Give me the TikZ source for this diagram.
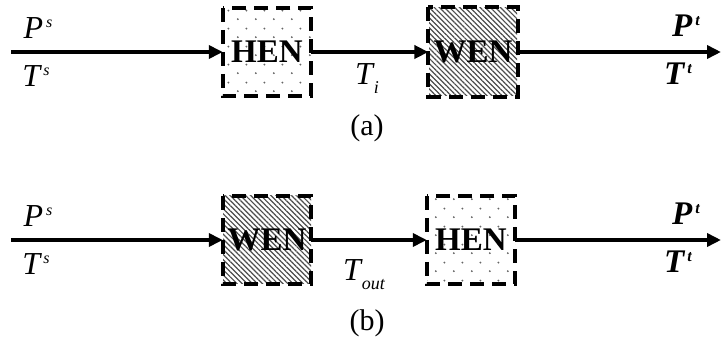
\documentclass[tikz,border=0pt]{standalone}
\usepackage{fontspec}
\setmainfont{Liberation Serif}
\usetikzlibrary{arrows.meta,patterns,patterns.meta}
\pgfdeclarepatternformonly{hexdots}{\pgfpointorigin}{\pgfpoint{18pt}{18pt}}{\pgfpoint{18pt}{18pt}}{%
  \pgfpathcircle{\pgfpoint{4pt}{4pt}}{1.1pt}%
  \pgfpathcircle{\pgfpoint{13pt}{13pt}}{1.1pt}%
  \pgfusepath{fill}}
\newcommand{\supl}[2]{#1\hspace{3pt}\raisebox{11pt}{\fontsize{16}{16}\selectfont #2}}
\newcommand{\subl}[2]{#1\hspace{1pt}\raisebox{-9pt}{\fontsize{18}{18}\selectfont #2}}
\begin{document}
\begin{tikzpicture}[x=1pt,y=-1pt,
  flow/.style={line width=3.8pt,-{Triangle[length=14pt,width=13pt]}},
  unit/.style={minimum width=88pt,minimum height=88pt,inner sep=0pt,
     font=\fontsize{33}{34}\selectfont\bfseries},
  frame/.style={draw,line width=4pt,dash pattern=on 14pt off 8pt},
  hen/.style={unit,pattern=hexdots,pattern color=black!60},
  wen/.style={unit,pattern={Lines[angle=-45,distance=3.6pt,line width=1.2pt]},pattern color=black!70},
  lbl/.style={font=\fontsize{32}{34}\selectfont\itshape,inner sep=0pt},
  lblb/.style={font=\fontsize{33}{36}\selectfont\bfseries\itshape,inner sep=0pt},
  captext/.style={font=\fontsize{30}{32}\selectfont,inner sep=0pt}]
\useasboundingbox (0,0) rectangle (721,347);
% row (a)
\coordinate (a0) at (11,52);
\coordinate (a3) at (721,52);
\node[hen] (aH) at (267,52) {HEN};
\node[wen] (aW) at (473,52) {WEN};
\draw[frame] (aH.north west) rectangle (aH.south east);
\draw[frame] (aW.north west) rectangle (aW.south east);
\draw[flow] (a0) -- (aH.west);
\draw[flow] (aH.east) -- (aW.west);
\draw[flow] (aW.east) -- (a3);
\node[lbl] (aPs) at (38,28) {\supl{P}{s}};
\node[lbl] (aTs) at (36,76) {\supl{T}{s}};
\node[lbl] (aTi) at (367,79) {\subl{T}{i}};
\node[lblb] (aPt) at (686,26) {\supl{P}{t}};
\node[lblb] (aTt) at (678,74) {\supl{T}{t}};
\node[captext] (capa) at (367,128) {(a)};
% row (b)
\coordinate (b0) at (11,240);
\coordinate (b3) at (721,240);
\node[wen] (bW) at (267,240) {WEN};
\node[hen] (bH) at (471,240) {HEN};
\draw[frame] (bW.north west) rectangle (bW.south east);
\draw[frame] (bH.north west) rectangle (bH.south east);
\draw[flow] (b0) -- (bW.west);
\draw[flow] (bW.east) -- (bH.west);
\draw[flow] (bH.east) -- (b3);
\node[lbl] (bPs) at (38,216) {\supl{P}{s}};
\node[lbl] (bTs) at (36,264) {\supl{T}{s}};
\node[lbl] (bTo) at (364,275) {\subl{T}{out}};
\node[lblb] (bPt) at (686,214) {\supl{P}{t}};
\node[lblb] (bTt) at (678,262) {\supl{T}{t}};
\node[captext] (capb) at (367,323) {(b)};
\end{tikzpicture}
\end{document}
